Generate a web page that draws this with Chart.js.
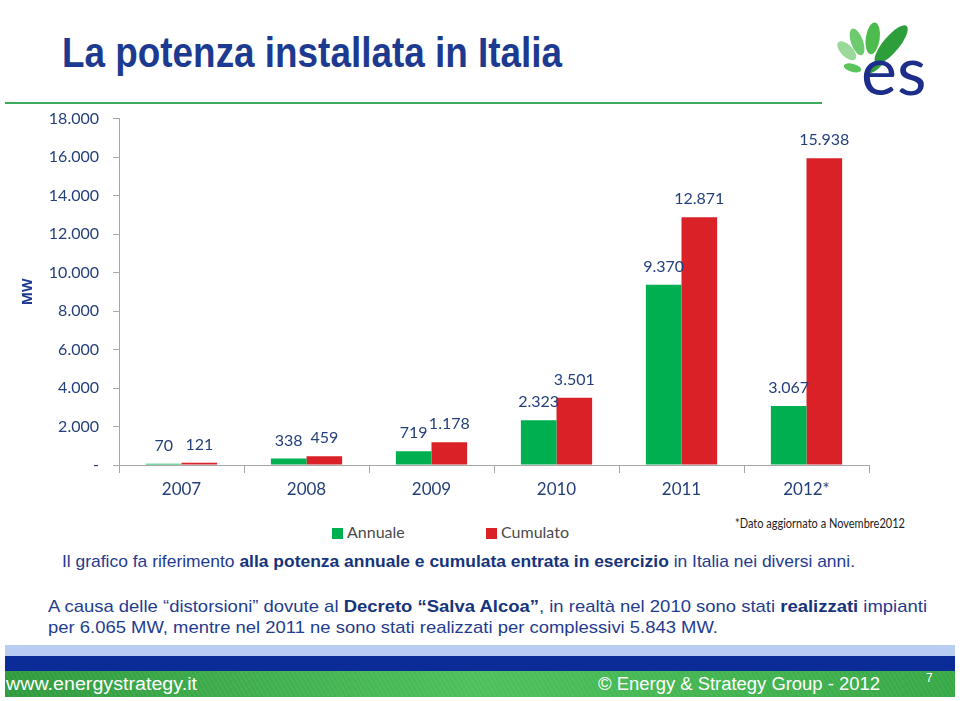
<!DOCTYPE html>
<html>
<head>
<meta charset="utf-8">
<script src="https://cdn.jsdelivr.net/npm/chart.js@4/dist/chart.umd.min.js"></script>
<style>
  body { margin: 0; background: #fff; }
  #slide { position: relative; width: 960px; height: 701px; overflow: hidden; background: #fff; font-family: "Liberation Sans", Arial, sans-serif; }
  .fit { position: absolute; white-space: nowrap; transform-origin: 0 0; }
  #title { left: 62px; top: 30px; font-size: 42px; font-weight: bold; color: #1C3A8F; line-height: 46px; }
  #rule { position: absolute; left: 5px; top: 102px; width: 817px; height: 2px; background: #3DAA5E; }
  #logo { position: absolute; left: 835px; top: 10px; }
  #chart { position: absolute; left: 0; top: 95px; }
  .legend { position: absolute; top: 523px; font-family: Lato, "Open Sans", sans-serif; font-size: 16px; color: #4a4a4a; line-height: 18px; }
  .legend span { display: inline-block; width: 11px; height: 11px; margin-right: 4px; vertical-align: -1px; }
  #note { left: 735px; top: 516px; font-family: Lato, "Open Sans", sans-serif; font-size: 12.5px; color: #222; }
  .para { font-size: 17px; color: #1F3C8F; line-height: 20px; }
  .para b { color: #15347C; }
  #bandA { position: absolute; left: 5px; top: 645px; width: 950px; height: 11px; background: #B9CDF2; }
  #bandB { position: absolute; left: 5px; top: 656px; width: 950px; height: 15px; background: #0B2C96; }
  #bandC { position: absolute; left: 5px; top: 671px; width: 950px; height: 26px;
           background: repeating-linear-gradient(60deg, rgba(255,255,255,0.05) 0 2px, rgba(0,0,0,0) 2px 4px), linear-gradient(90deg, #2E9A3C, #4CC05A 50%, #36A845); }
  .foot { color: #fff; font-size: 18px; line-height: 20px; }
</style>
</head>
<body>
<div id="slide">
  <div id="title" class="fit" data-w="500">La potenza installata in Italia</div>
  <div id="rule"></div>
  <svg id="logo" width="110" height="90" viewBox="0 0 110 90">
    <g transform="translate(33,62)">
      <ellipse cx="0" cy="-30" rx="6" ry="12" fill="#9AD99A" transform="rotate(-45)"/>
      <ellipse cx="0" cy="-32" rx="6" ry="14" fill="#6CCB6C" transform="rotate(-20)"/>
      <ellipse cx="0" cy="-34" rx="7" ry="16" fill="#4DBB4D" transform="rotate(8)"/>
      <ellipse cx="0" cy="-36" rx="8" ry="24" fill="#2E9E3A" transform="rotate(40)"/>
      <ellipse cx="0" cy="-16" rx="4" ry="9" fill="#5BC45B" transform="rotate(-75)"/>
      <ellipse cx="0" cy="10" rx="4" ry="12" fill="#2E9E3A" transform="rotate(-130)"/>
    </g>
    <text x="26" y="85" font-family="Lato, 'Open Sans', sans-serif" font-size="68" fill="#1C2D8A">es</text>
  </svg>

  <canvas id="chart" width="906" height="410"></canvas>

  <div class="legend" style="left:332px"><span style="background:#00B050"></span>Annuale</div>
  <div class="legend" style="left:486px"><span style="background:#DA2128"></span>Cumulato</div>
  <div id="note" class="fit" data-w="170">*Dato aggiornato a Novembre2012</div>

  <div class="para fit" data-w="793" style="left:62px; top:552px">Il grafico fa riferimento <b>alla potenza annuale e cumulata entrata in esercizio</b> in Italia nei diversi anni.</div>
  <div class="para fit" data-w="879" style="left:48px; top:597px">A causa delle “distorsioni” dovute al <b>Decreto “Salva Alcoa”</b>, in realtà nel 2010 sono stati <b>realizzati</b> impianti</div>
  <div class="para fit" data-w="670" style="left:48px; top:618px">per 6.065 MW, mentre nel 2011 ne sono stati realizzati per complessivi 5.843 MW.</div>

  <div id="bandA"></div>
  <div id="bandB"></div>
  <div id="bandC"></div>
  <div class="foot fit" data-w="191" style="left:6px; top:674px">www.energystrategy.it</div>
  <div class="foot fit" data-w="282" style="left:598px; top:674px">© Energy &amp; Strategy Group - 2012</div>
  <div class="fit" style="left:926px; top:671px; color:#fff; font-size:12px">7</div>
</div>

<script>
// data (MW)
let years = ['2007', '2008', '2009', '2010', '2011', '2012*']
let annuale = [70, 338, 719, 2323, 9370, 3067]
let cumulato = [121, 459, 1178, 3501, 12871, 15938]
let yTicks = [0, 2000, 4000, 6000, 8000, 10000, 12000, 14000, 16000, 18000]

let navy = '#243F7A'

// squeeze text blocks to the widths seen on the slide
document.querySelectorAll('.fit[data-w]').forEach(function (el) {
  let w = el.getBoundingClientRect().width
  el.style.transform = 'scaleX(' + (el.dataset.w / w) + ')'
})

// 1234 -> "1.234"
function itNum(v) {
  return String(v).replace(/\B(?=(\d{3})+(?!\d))/g, '.')
}

// value labels above the bars
let barLabels = {
  id: 'barLabels',
  afterDatasetsDraw(chart) {
    let ctx = chart.ctx
    ctx.save()
    ctx.font = '16px Lato, "Open Sans", sans-serif'
    ctx.fillStyle = navy
    ctx.textAlign = 'center'
    ctx.textBaseline = 'middle'
    chart.data.datasets.forEach(function (ds, i) {
      chart.getDatasetMeta(i).data.forEach(function (bar, j) {
        ctx.fillText(itNum(ds.data[j]), bar.x, bar.y - 18)
      })
    })
    ctx.restore()
  }
}

let ctx = document.querySelector('#chart').getContext('2d')

let potenzaChart = new Chart(ctx, {
  type: 'bar',
  data: {
    labels: years,
    datasets: [
      { label: 'Annuale', data: annuale, backgroundColor: '#00B050' },
      { label: 'Cumulato', data: cumulato, backgroundColor: '#DA2128' }
    ]
  },
  options: {
    responsive: false,
    animation: false,
    layout: { padding: { top: 13, right: 37, left: 0, bottom: 0 } },
    categoryPercentage: 0.57,
    barPercentage: 1,
    plugins: {
      legend: { display: false },
      tooltip: { enabled: false }
    },
    scales: {
      x: {
        grid: { drawOnChartArea: false, color: '#A6A6A6', tickLength: 8 },
        border: { color: '#A6A6A6' },
        ticks: { color: navy, font: { family: 'Lato, "Open Sans", sans-serif', size: 17 }, padding: 6 },
        afterFit(scale) { scale.height = 40 }
      },
      y: {
        min: 0,
        max: 18000,
        afterBuildTicks(scale) { scale.ticks = yTicks.map(function (v) { return { value: v } }) },
        grid: { drawOnChartArea: false, color: '#A6A6A6', tickLength: 6 },
        border: { color: '#A6A6A6' },
        ticks: {
          color: navy,
          font: { family: 'Lato, "Open Sans", sans-serif', size: 16 },
          padding: 14,
          callback: function (v) { return v === 0 ? '-' : itNum(v) }
        },
        title: {
          display: true,
          text: 'MW',
          color: '#1C3A8F',
          font: { family: '"Open Sans", sans-serif', size: 14, weight: 'bold' },
          padding: { top: 20, bottom: 0 }
        },
        afterFit(scale) { scale.width = 119 }
      }
    }
  },
  plugins: [barLabels]
})
</script>
</body>
</html>
